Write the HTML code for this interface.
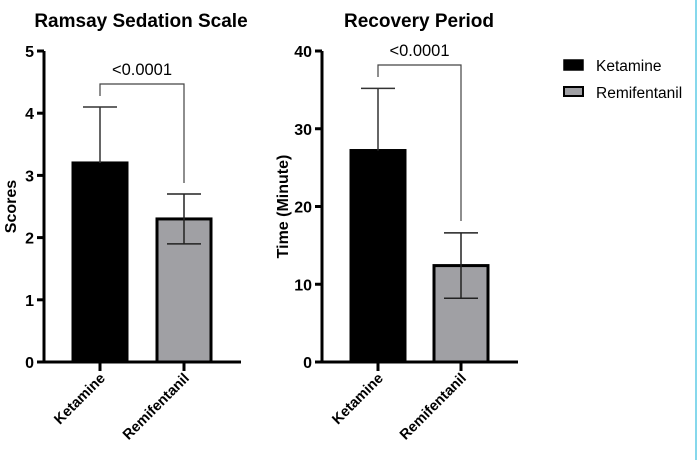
<!DOCTYPE html>
<html><head><meta charset="utf-8"><style>
html,body{margin:0;padding:0;background:#fff;}
svg{display:block;font-family:"Liberation Sans",Arial,sans-serif;}
</style></head><body>
<svg id="svg" width="697" height="460" viewBox="0 0 697 460" xmlns="http://www.w3.org/2000/svg">
<line x1="696" y1="0" x2="696" y2="460" stroke="#5ecbe6" stroke-width="1.5"/>
<g id="legend">
<g>
<rect x="564" y="60" width="19" height="10" fill="#000" stroke="#000" stroke-width="1.5"/>
<text x="596" y="71" font-size="15.5">Ketamine</text></g>
<g>
<rect x="564" y="87" width="19" height="9" fill="#a0a0a4" stroke="#000" stroke-width="2"/>
<text x="596" y="98" font-size="15.5">Remifentanil</text></g>
</g>
</svg>
<script>
const categories = ["Ketamine", "Remifentanil"];
const ramsayMeans = [3.2, 2.3];
const ramsaySD = [0.9, 0.4];
const ramsayTicks = [0, 1, 2, 3, 4, 5];
const recoveryMeans = [27.2, 12.4];
const recoverySD = [8.0, 4.2];
const recoveryTicks = [0, 10, 20, 30, 40];
const pLabels = ["<0.0001", "<0.0001"];

const NS = "http://www.w3.org/2000/svg";
const svg = document.getElementById('svg');
function mk(tag, attrs, parent) {
  const e = document.createElementNS(NS, tag);
  for (const k in attrs) e.setAttribute(k, attrs[k]);
  (parent || svg).appendChild(e);
  return e;
}
const fills = ["#000", "#a0a0a4"];

function drawChart(cfg) {
  const g = mk('g', {});
  
  
  const y0 = 362, y1 = 51, max = cfg.ticks[cfg.ticks.length - 1];
  const yS = v => y0 - (v / max) * (y0 - y1);
  const t = mk('text', {x: cfg.titleX, y: 27, 'text-anchor': 'middle', 'font-size': 19, 'font-weight': 'bold'}, g);
  t.textContent = cfg.title;
  
  
  const yt = mk('text', {x: 0, y: 0, 'text-anchor': 'middle', 'font-size': 16, 'font-weight': 'bold', transform: `translate(${cfg.yTitleX},${(y0 + y1) / 2}) rotate(-90)`}, g);
  yt.textContent = cfg.yTitle;
  
  
  categories.forEach((c, i) => {
    const cx = cfg.centers[i], hw = 27;
    const top = yS(cfg.means[i]);
    const b = mk('rect', {x: cx - hw, y: top, width: hw * 2, height: y0 - top, fill: fills[i], stroke: '#000', 'stroke-width': 3}, g);
    
    
    const eh = yS(cfg.means[i] + cfg.sd[i]), el = yS(cfg.means[i] - cfg.sd[i]);
    const eb = mk('path', {d: `M${cx},${el}V${eh}M${cx - 17},${eh}H${cx + 17}M${cx - 17},${el}H${cx + 17}`, stroke: i === 0 ? '#333' : '#222', 'stroke-width': 1.5, fill: 'none'}, g);
    if (i === 0) eb.setAttribute('d', `M${cx},${top}V${eh}M${cx - 17},${eh}H${cx + 17}`);
    
    
    const tk = mk('line', {x1: cx, y1: y0, x2: cx, y2: y0 + 9, stroke: '#000', 'stroke-width': 3}, g);
    
    
    const lb = mk('text', {x: 0, y: 0, 'text-anchor': 'end', 'font-size': 14.5, 'font-weight': 'bold', transform: `translate(${cx + 6},${y0 + 17}) rotate(-45)`}, g);
    lb.textContent = c;
    
    
  });
  const ax = mk('path', {d: `M${cfg.axisX},${y1}V${y0}M${cfg.axisX - 7},${y0}H${cfg.axisEnd}`, stroke: '#000', 'stroke-width': 3, fill: 'none'}, g);
  
  
  cfg.ticks.forEach(v => {
    const y = yS(v);
    const tk = mk('line', {x1: cfg.axisX - 7, y1: y, x2: cfg.axisX, y2: y, stroke: '#000', 'stroke-width': 3}, g);
    
    
    const tl = mk('text', {x: cfg.axisX - 10, y: y + 6, 'text-anchor': 'end', 'font-size': 16, 'font-weight': 'bold'}, g);
    tl.textContent = v;
    
    
  });
  const by = cfg.bracketY;
  const br = mk('path', {d: `M${cfg.centers[0]},${cfg.legL}V${by}H${cfg.centers[1]}V${cfg.legR}`, stroke: '#444', 'stroke-width': 1.2, fill: 'none'}, g);
  
  
  const pt = mk('text', {x: (cfg.centers[0] + cfg.centers[1]) / 2, y: by - 9, 'text-anchor': 'middle', 'font-size': 16.5}, g);
  pt.textContent = cfg.p;
  
  
}
drawChart({id: 'ramsay', title: 'Ramsay Sedation Scale', titleX: 141, yTitle: 'Scores', yTitleX: 16,
  means: ramsayMeans, sd: ramsaySD, ticks: ramsayTicks, centers: [100, 184], axisX: 44, axisEnd: 241,
  bracketY: 84, legL: 96, legR: 183, p: pLabels[0]});
drawChart({id: 'recovery', title: 'Recovery Period', titleX: 419, yTitle: 'Time (Minute)', yTitleX: 288,
  means: recoveryMeans, sd: recoverySD, ticks: recoveryTicks, centers: [378, 461], axisX: 322, axisEnd: 518,
  bracketY: 65, legL: 77, legR: 221, p: pLabels[1]});
</script>
</body></html>
